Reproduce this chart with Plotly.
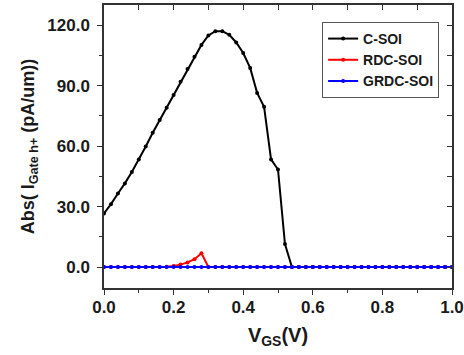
import plotly.graph_objects as go

vgs = [round(i * 0.02, 2) for i in range(51)]
c_soi = [26.6, 31.2, 36.5, 41.5, 47.2, 53.4, 59.8, 66.6, 72.9, 79.0, 85.4, 91.9,
         98.2, 104.3, 110.2, 114.9, 117.0, 117.0, 115.2, 111.4, 106.2, 98.8, 86.4,
         79.5, 53.4, 48.4, 11.4, 0.0] + [0.0] * 23
rdc_soi = [0.0] * 9 + [0.2, 0.5, 1.2, 2.3, 3.9, 6.8, 0.0] + [0.0] * 35
grdc_soi = [0.0] * 51

series = [("C-SOI", c_soi, "black"), ("RDC-SOI", rdc_soi, "red"), ("GRDC-SOI", grdc_soi, "blue")]

FAM = "Arial, Liberation Sans, sans-serif"
TXT = "#1a1a1a"
AX = "#333"

fig = go.Figure()
for name, vals, col in series:
    fig.add_trace(go.Scatter(x=vgs, y=vals, name="<b>" + name + "</b>", mode="lines+markers",
                             line=dict(color=col, width=2),
                             marker=dict(color=col, size=4)))
fig.add_trace(go.Scatter(x=[None], y=[None], xaxis="x2", yaxis="y2",
                         showlegend=False, hoverinfo="skip"))

fig.update_layout(
    width=464, height=355,
    margin=dict(l=104, r=12, t=5, b=67),
    paper_bgcolor="white", plot_bgcolor="white",
    font=dict(family=FAM, size=14, color=TXT),
    showlegend=True,
    legend=dict(x=0.963, y=0.94, xanchor="right", yanchor="top",
                bordercolor="#555", borderwidth=1, bgcolor="white",
                font=dict(family=FAM, size=14, color=TXT),
                itemwidth=30, tracegroupgap=0),
    xaxis=dict(range=[0, 1], dtick=0.2, tickformat=".1f", ticks="outside", ticklen=5,
               tickcolor=AX, showline=True, linecolor=AX, linewidth=1.5,
               showgrid=False, zeroline=False, mirror=True, automargin=False,
               tickprefix="<b>", ticksuffix="</b>", ticklabelstandoff=-2,
               minor=dict(ticks="outside", dtick=0.1, ticklen=3, tickcolor=AX),
               tickfont=dict(family=FAM, size=17, color=TXT),
               title=dict(text="<b>V<sub>GS</sub>(V)</b>", standoff=12,
                          font=dict(family=FAM, size=20, color=TXT))),
    yaxis=dict(range=[-10.4, 130], dtick=30, tickformat=".1f", ticks="outside", ticklen=5,
               tickcolor=AX, showline=True, linecolor=AX, linewidth=1.5,
               showgrid=False, zeroline=False, mirror=True, automargin=False,
               ticklabelstandoff=4, tickprefix="<b>", ticksuffix="</b>",
               minor=dict(ticks="outside", dtick=15, ticklen=3, tickcolor=AX),
               tickfont=dict(family=FAM, size=17, color=TXT),
               title=dict(text="<b>Abs( I<sub>Gate h+</sub> (pA/um))</b>", standoff=8,
                          font=dict(family=FAM, size=18, color=TXT))),
    xaxis2=dict(range=[0, 1], overlaying="x", side="top", dtick=0.1, ticks="inside",
                ticklen=5, tickcolor=AX, showticklabels=False, showgrid=False,
                zeroline=False, showline=False, automargin=False),
    yaxis2=dict(range=[-10.4, 130], overlaying="y", side="right", dtick=15, ticks="inside",
                ticklen=5, tickcolor=AX, showticklabels=False, showgrid=False,
                zeroline=False, showline=False, automargin=False),
)

fig.write_html("out.html", config={"displayModeBar": False},
               post_script="document.body.style.margin='0';document.body.style.padding='0';")
